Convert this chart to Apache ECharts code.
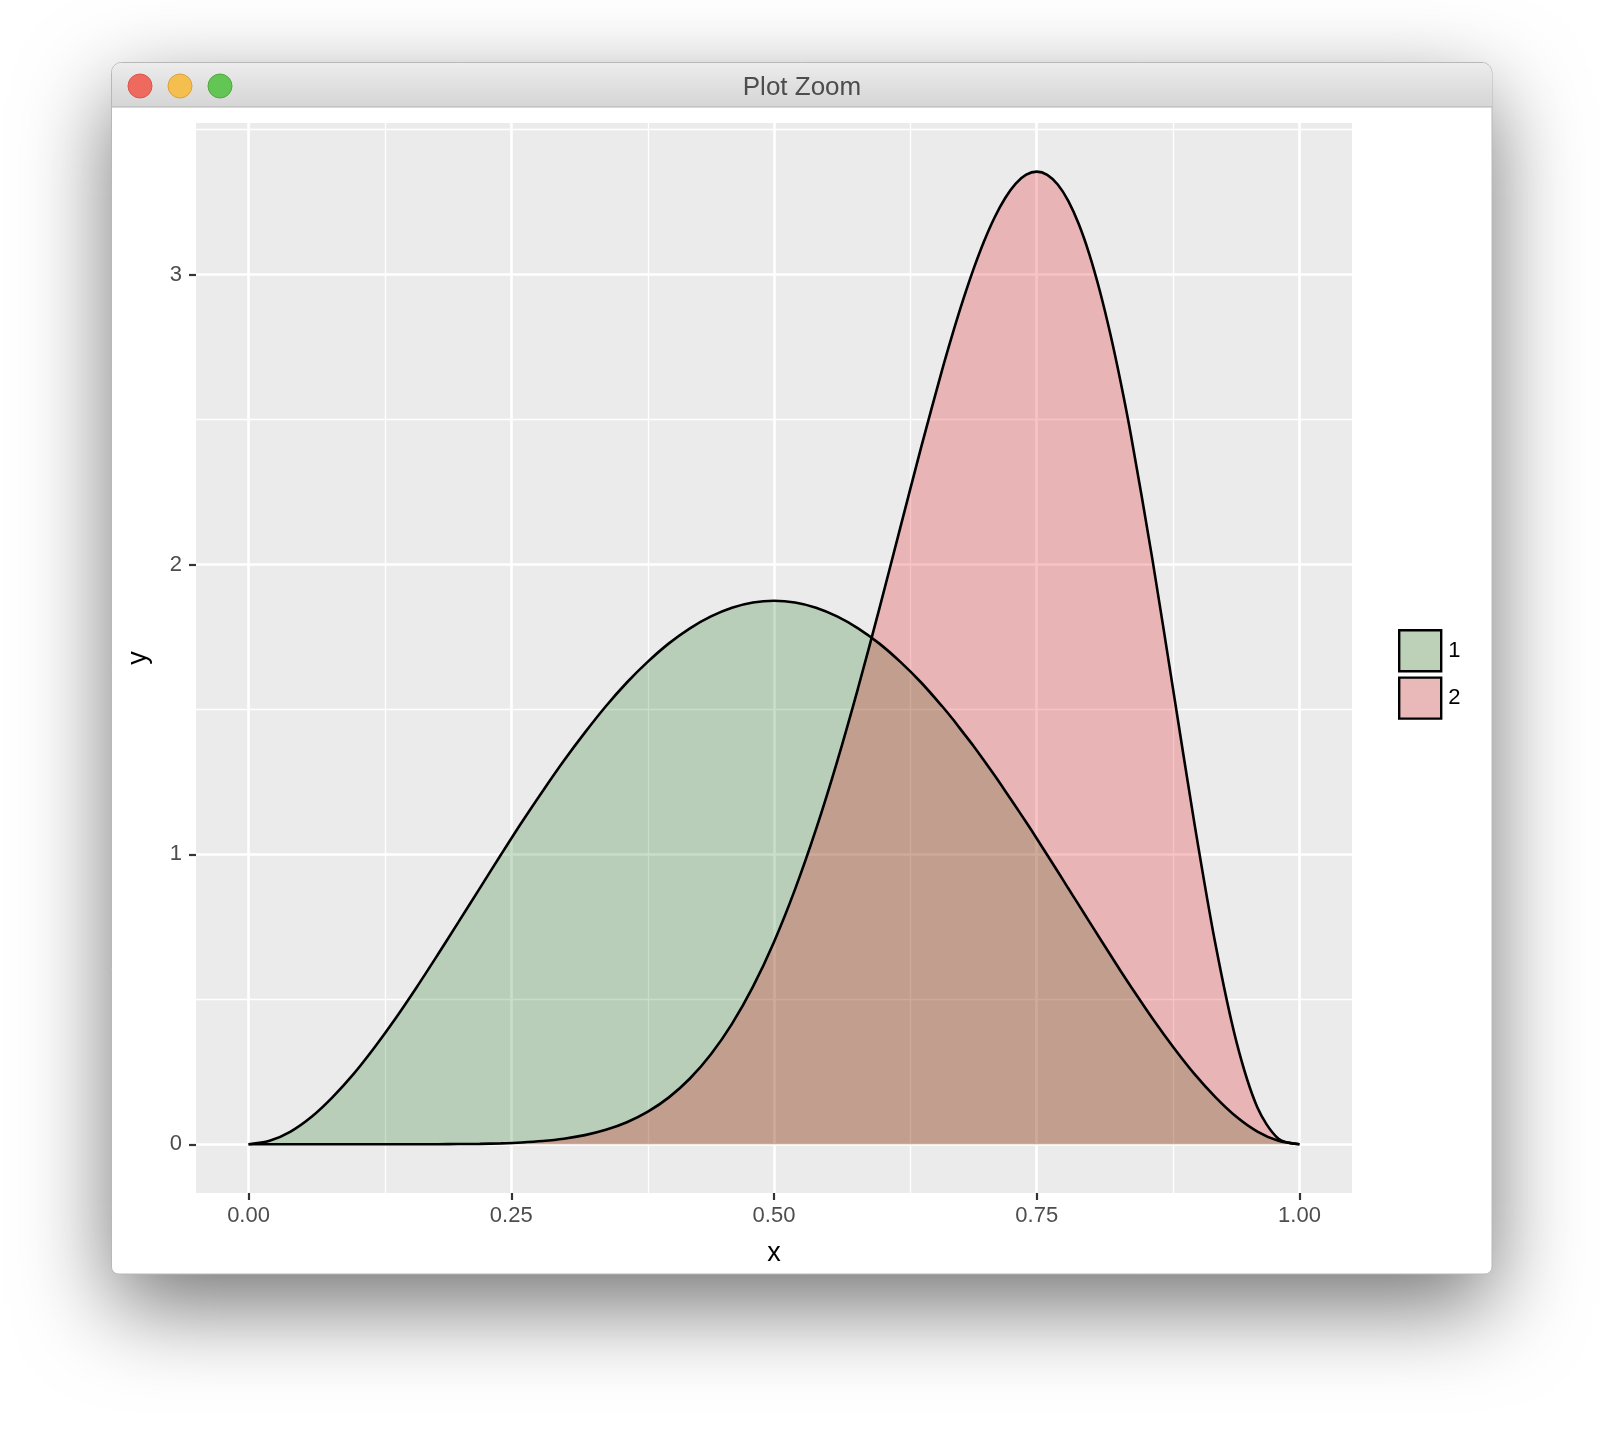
<!DOCTYPE html>
<html>
<head>
<meta charset="utf-8">
<script src="https://cdn.jsdelivr.net/npm/echarts@6/dist/echarts.min.js"></script>
<style>
html,body{margin:0;padding:0;background:#fff;}
#chart{width:1604px;height:1434px;}
</style>
</head>
<body>
<div id="chart"></div>
<script>
// ---- data ----
const xs = [0.00,0.02,0.04,0.06,0.08,0.10,0.12,0.14,0.16,0.18,0.20,0.22,0.24,0.26,0.28,0.30,0.32,0.34,0.36,0.38,0.40,0.42,0.44,0.46,0.48,0.50,
            0.52,0.54,0.56,0.58,0.60,0.62,0.64,0.66,0.67,0.68,0.69,0.70,0.71,0.72,0.73,0.74,0.75,0.76,0.77,0.78,0.79,0.80,0.81,0.82,0.83,0.84,0.86,0.88,0.90,0.92,0.94,0.96,0.98,1.00];
const group1 = [0,0.012,0.044,0.095,0.163,0.243,0.335,0.435,0.542,0.654,0.768,0.883,0.998,1.111,1.219,1.323,1.420,1.511,1.593,1.665,1.728,1.780,1.821,1.851,1.869,1.875,
                1.869,1.851,1.821,1.780,1.728,1.665,1.593,1.511,1.467,1.420,1.373,1.323,1.272,1.219,1.165,1.111,1.055,0.998,0.941,0.883,0.826,0.768,0.711,0.654,0.597,0.542,0.435,0.335,0.243,0.163,0.095,0.044,0.012,0];
const group2 = [0,0,0,0,0,0,0,0,0.0001,0.0003,0.0008,0.0016,0.0033,0.0063,0.0113,0.0193,0.0316,0.0499,0.0761,0.1126,0.1619,0.2269,0.3105,0.4153,0.5439,0.6982,
                0.8793,1.0869,1.3195,1.5739,1.8446,2.1244,2.4038,2.6712,2.7963,2.9134,3.0207,3.1161,3.1980,3.2645,3.3141,3.3448,3.3554,3.3444,3.3110,3.2545,3.1745,3.0709,2.9444,2.7958,2.6267,2.4392,2.0195,1.5641,1.1080,0.6914,0.3540,0.1268,0.0191,0];
const seriesNames = ['1','2'];
const xTicks = [0,0.25,0.5,0.75,1];
const xMinor = [0.125,0.375,0.625,0.875];
const yTicks = [0,1,2,3];
const yMinor = [0.5,1.5,2.5,3.5];
const windowTitle = 'Plot Zoom';

const chart = echarts.init(document.getElementById('chart'), null, {renderer:'canvas'});
const FONT = '"Liberation Sans", Arial, sans-serif';

const gridLines = [];
xMinor.forEach(v => gridLines.push({xAxis:v, lineStyle:{width:1.3}}));
yMinor.forEach(v => gridLines.push({yAxis:v, lineStyle:{width:1.3}}));
xTicks.forEach(v => gridLines.push({xAxis:v, lineStyle:{width:2.6}}));
yTicks.forEach(v => gridLines.push({yAxis:v, lineStyle:{width:2.6}}));

const option = {
  animation:false,
  backgroundColor:'#ffffff',
  graphic:[
    {type:'rect', z:-10, shape:{x:112, y:63, width:1380, height:1211, r:[10,10,7,7]},
     style:{fill:'#ffffff', shadowBlur:90, shadowOffsetY:32, shadowColor:'rgba(0,0,0,0.55)'}, silent:true},
    {type:'rect', z:-9, shape:{x:111.5, y:62.5, width:1380.5, height:1211.5, r:[10,10,7,7]},
     style:{fill:'#ffffff', stroke:'#b8b8b8', lineWidth:1}, silent:true},
    {type:'rect', z:-8, shape:{x:112, y:63, width:1380, height:44, r:[10,10,0,0]},
     style:{fill:new echarts.graphic.LinearGradient(0,0,0,1,[{offset:0,color:'#ececec'},{offset:1,color:'#d5d5d5'}])}, silent:true},
    {type:'line', z:-7, shape:{x1:112, y1:107, x2:1492, y2:107}, style:{stroke:'#b3b3b3', lineWidth:1}, silent:true},
    {type:'circle', z:-6, shape:{cx:140, cy:86, r:12}, style:{fill:'#ee6a5f', stroke:'#d9554b', lineWidth:1}, silent:true},
    {type:'circle', z:-6, shape:{cx:180, cy:86, r:12}, style:{fill:'#f5bf4f', stroke:'#d9a23f', lineWidth:1}, silent:true},
    {type:'circle', z:-6, shape:{cx:220, cy:86, r:12}, style:{fill:'#62c554', stroke:'#4ea83f', lineWidth:1}, silent:true},
    {type:'text', z:-6, x:802, y:88, style:{text:windowTitle, fill:'#4d4d4d', font:'26px ' + FONT, align:'center', verticalAlign:'middle'}, silent:true}
  ],
  grid:{left:196, top:123, right:252, bottom:241, show:true, backgroundColor:'#ebebeb', borderWidth:0, containLabel:false},
  legend:{
    orient:'vertical', left:1393, top:624, itemWidth:42, itemHeight:41, itemGap:4, icon:'rect',
    textStyle:{fontFamily:FONT, fontSize:22, color:'#000', padding:[0,0,0,2]},
    data:[
      {name:seriesNames[0], itemStyle:{color:'#bcd1b7', borderColor:'#000', borderWidth:2.4}},
      {name:seriesNames[1], itemStyle:{color:'#e9b8b8', borderColor:'#000', borderWidth:2.4}}
    ],
    selectedMode:false
  },
  xAxis:{
    type:'value', min:-0.05, max:1.05,
    name:'x', nameLocation:'middle', nameGap:47,
    nameTextStyle:{fontFamily:FONT, fontSize:27, color:'#000'},
    axisLine:{show:false, onZero:false},
    splitLine:{show:false},
    axisTick:{show:true, customValues:xTicks, length:7, lineStyle:{color:'#333', width:2.2}},
    axisLabel:{customValues:xTicks, margin:12, fontFamily:FONT, fontSize:22, color:'#4d4d4d', formatter:v => v.toFixed(2)}
  },
  yAxis:{
    type:'value', min:-0.168, max:3.523,
    name:'y', nameLocation:'middle', nameGap:44, nameRotate:90,
    nameTextStyle:{fontFamily:FONT, fontSize:27, color:'#000'},
    axisLine:{show:false, onZero:false},
    splitLine:{show:false},
    axisTick:{show:true, customValues:yTicks, length:7, lineStyle:{color:'#333', width:2.2}},
    axisLabel:{customValues:yTicks, margin:14, fontFamily:FONT, fontSize:22, color:'#4d4d4d', formatter:v => String(Math.round(v))}
  },
  series:[
    {type:'line', name:'grid', data:[], silent:true, z:1,
     markLine:{silent:true, z:1, symbol:['none','none'], label:{show:false}, animation:false,
       lineStyle:{color:'#ffffff', type:'solid'}, emphasis:{disabled:true}, data:gridLines}},
    {type:'line', name:seriesNames[0], z:3, smooth:0.3, showSymbol:false, symbol:'none',
     data:xs.map((x,i)=>[x, group1[i]]),
     lineStyle:{color:'#000', width:2.6},
     itemStyle:{color:'#bcd1b7'},
     areaStyle:{color:'rgba(0,100,0,0.21)', opacity:1}},
    {type:'line', name:seriesNames[1], z:3, smooth:0.3, showSymbol:false, symbol:'none',
     data:xs.map((x,i)=>[x, group2[i]]),
     lineStyle:{color:'#000', width:2.6},
     itemStyle:{color:'#e9b8b8'},
     areaStyle:{color:'rgba(222,14,18,0.25)', opacity:1}}
  ]
};
chart.setOption(option);
</script>
</body>
</html>
